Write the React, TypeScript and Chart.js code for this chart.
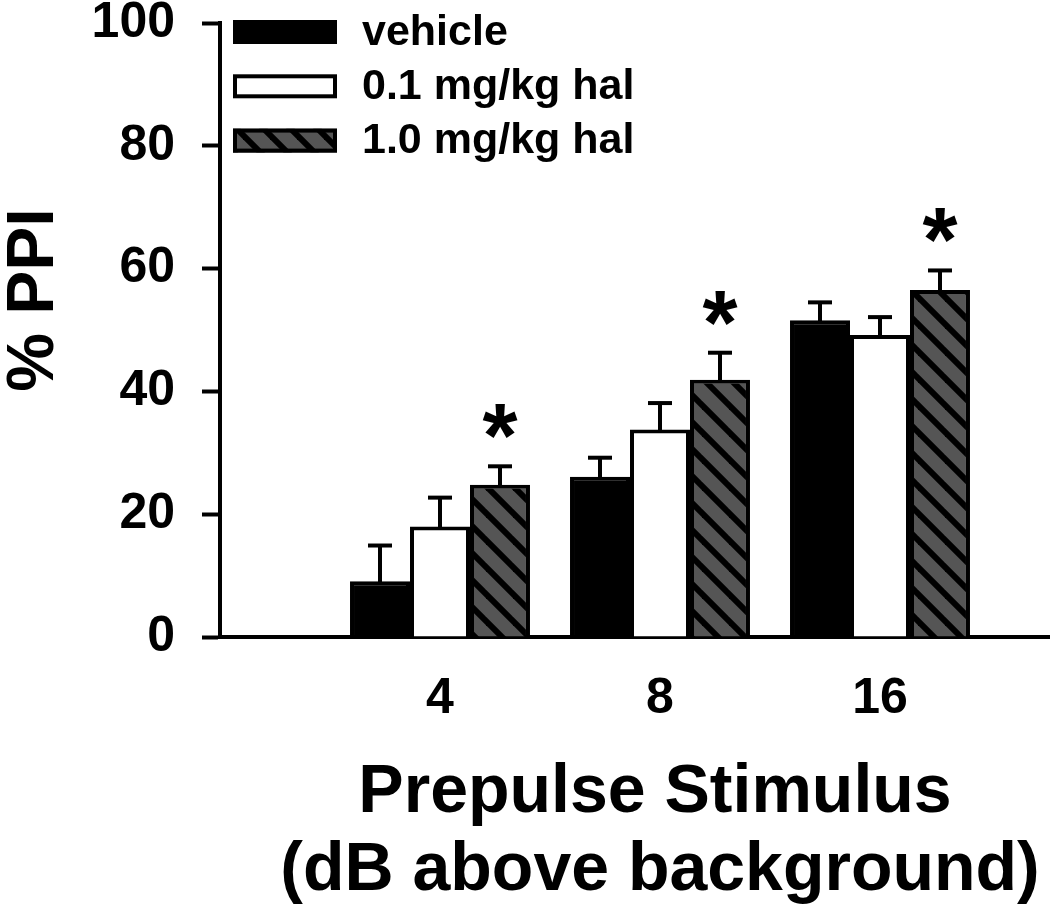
import React, { useEffect, useRef } from "react";
import { Chart, registerables } from "chart.js";

Chart.register(...registerables);

// ---- data ----
const categories = ["4", "8", "16"];
const categoryPositions = [1, 2, 3];
const seriesLabels = ["vehicle", "0.1 mg/kg hal", "1.0 mg/kg hal"];
const vehicleMeans = [9.1, 26.1, 51.6];
const vehicleSem = [5.8, 3.1, 2.9];
const hal01Means = [18.0, 33.8, 49.2];
const hal01Sem = [4.7, 4.3, 2.9];
const hal10Means = [24.8, 41.9, 56.5];
const hal10Sem = [3.0, 4.4, 3.2];
const hal10Significant = [true, true, true];
const yTickValues = [0, 20, 40, 60, 80, 100];
const xTitleLines = ["Prepulse Stimulus", "(dB above background)"];
const yTitle = "% PPI";

const FONT = "'Liberation Sans', Arial, Helvetica, sans-serif";

export default function App() {
  const ref = useRef<HTMLCanvasElement | null>(null);

  useEffect(() => {
    document.body.style.margin = "0";
    const canvas = ref.current!;
    const ctx0 = canvas.getContext("2d")!;

    // hatch pattern
    const s = 27;
    const tile = document.createElement("canvas");
    tile.width = s;
    tile.height = s;
    const t = tile.getContext("2d")!;
    t.fillStyle = "#555555";
    t.fillRect(0, 0, s, s);
    t.strokeStyle = "#000000";
    t.lineWidth = 6;
    for (const k of [-1, 0, 1]) {
      t.beginPath();
      t.moveTo(k * s - 3, -3);
      t.lineTo(k * s + s + 3, s + 3);
      t.stroke();
    }
    const hatch = ctx0.createPattern(tile, "repeat")!;

    const meansList = [vehicleMeans, hal01Means, hal10Means];
    const semList = [vehicleSem, hal01Sem, hal10Sem];
    const fills: (string | CanvasPattern)[] = ["#000000", "#ffffff", hatch];

    const datasets = meansList.map((means, i) => ({
      label: seriesLabels[i],
      data: means.map((v, j) => ({ x: categoryPositions[j], y: v })),
      backgroundColor: fills[i],
      borderColor: "#000000",
      borderWidth: 4,
      categoryPercentage: 0.818,
      barPercentage: 1.0,
    }));

    const errorBarPlugin = {
      id: "errorBars",
      afterDatasetsDraw(chart: any) {
        const ctx = chart.ctx as CanvasRenderingContext2D;
        const yScale = chart.scales.y;
        ctx.save();
        ctx.strokeStyle = "#000";
        ctx.lineWidth = 4;
        chart.data.datasets.forEach((ds: any, i: number) => {
          const meta = chart.getDatasetMeta(i);
          meta.data.forEach((bar: any, j: number) => {
            const v = meansList[i][j];
            const topY = yScale.getPixelForValue(v + semList[i][j]);
            const barY = yScale.getPixelForValue(v);
            ctx.beginPath();
            ctx.moveTo(bar.x, barY + 2);
            ctx.lineTo(bar.x, topY);
            ctx.stroke();
            ctx.beginPath();
            ctx.moveTo(bar.x - 12, topY);
            ctx.lineTo(bar.x + 12, topY);
            ctx.stroke();
            if (i === 2 && hal10Significant[j]) {
              ctx.fillStyle = "#000";
              ctx.font = `bold 90px ${FONT}`;
              ctx.textAlign = "center";
              ctx.textBaseline = "alphabetic";
              const m = ctx.measureText("*");
              const center = topY - 45;
              const base = center - (m.actualBoundingBoxDescent - m.actualBoundingBoxAscent) / 2;
              ctx.fillText("*", bar.x, base);
            }
          });
        });
        ctx.restore();
      },
    };

    const legendAndTitlesPlugin = {
      id: "legendTitles",
      afterDraw(chart: any) {
        const ctx = chart.ctx as CanvasRenderingContext2D;
        const area = chart.chartArea;
        ctx.save();
        // legend
        const boxX = area.left + 13;
        const boxW = 104;
        const boxH = 24;
        chart.data.datasets.forEach((ds: any, i: number) => {
          const cy = area.top + 9 + i * 54.3;
          const y = cy - boxH / 2;
          ctx.fillStyle = ds.backgroundColor;
          ctx.fillRect(boxX, y, boxW, boxH);
          ctx.strokeStyle = "#000";
          ctx.lineWidth = 4;
          ctx.strokeRect(boxX + 2, y + 2, boxW - 4, boxH - 4);
          ctx.fillStyle = "#000";
          ctx.font = `bold 43px ${FONT}`;
          ctx.textAlign = "left";
          ctx.textBaseline = "middle";
          ctx.fillText(ds.label, area.left + 142, cy + 1);
        });
        // x title
        ctx.fillStyle = "#000";
        ctx.font = `bold 68px ${FONT}`;
        ctx.textAlign = "center";
        ctx.textBaseline = "alphabetic";
        ctx.fillText(xTitleLines[0], 655, 812);
        ctx.fillText(xTitleLines[1], 660, 890);
        // y title
        ctx.translate(53, 300);
        ctx.rotate(-Math.PI / 2);
        ctx.font = `bold 66px ${FONT}`;
        ctx.fillText(yTitle, 0, 0);
        ctx.restore();
      },
    };

    const chart = new Chart(canvas, {
      type: "bar",
      data: { datasets: datasets as any },
      options: {
        animation: false,
        responsive: false,
        events: [],
        layout: { padding: 0 },
        plugins: {
          legend: { display: false },
          tooltip: { enabled: false },
          title: { display: false },
        },
        scales: {
          x: {
            type: "linear",
            min: 0,
            max: 830 / 220,
            offset: false,
            afterBuildTicks: (scale: any) => {
              scale.ticks = categoryPositions.map((v) => ({ value: v }));
            },
            afterFit: (scale: any) => {
              scale.height = 268;
              scale.paddingLeft = 0;
              scale.paddingRight = 0;
            },
            grid: { display: false, drawTicks: false },
            border: { display: true, color: "#000", width: 4 },
            ticks: {
              autoSkip: false,
              maxRotation: 0,
              padding: 32,
              color: "#000",
              font: { family: FONT, size: 50, weight: "bold" },
              callback: (v: any) => {
                const idx = categoryPositions.indexOf(Number(v));
                return idx >= 0 ? categories[idx] : "";
              },
            },
          },
          y: {
            type: "linear",
            min: 0,
            max: 100,
            afterBuildTicks: (scale: any) => {
              scale.ticks = yTickValues.map((v) => ({ value: v }));
            },
            afterFit: (scale: any) => {
              scale.width = 220;
              scale.paddingTop = 23;
              scale.paddingBottom = 0;
            },
            grid: {
              display: true,
              drawOnChartArea: false,
              drawTicks: true,
              tickLength: 18,
              tickWidth: 4,
              tickColor: "#000",
            },
            border: { display: true, color: "#000", width: 4 },
            ticks: {
              padding: 27,
              color: "#000",
              font: { family: FONT, size: 50, weight: "bold", lineHeight: 0.9 },
            },
          },
        },
      },
      plugins: [errorBarPlugin, legendAndTitlesPlugin],
    } as any);

    return () => chart.destroy();
  }, []);

  return (
    <div style={{ width: 1050, height: 905 }}>
      <canvas ref={ref} width={1050} height={905} style={{ display: "block" }} />
    </div>
  );
}
